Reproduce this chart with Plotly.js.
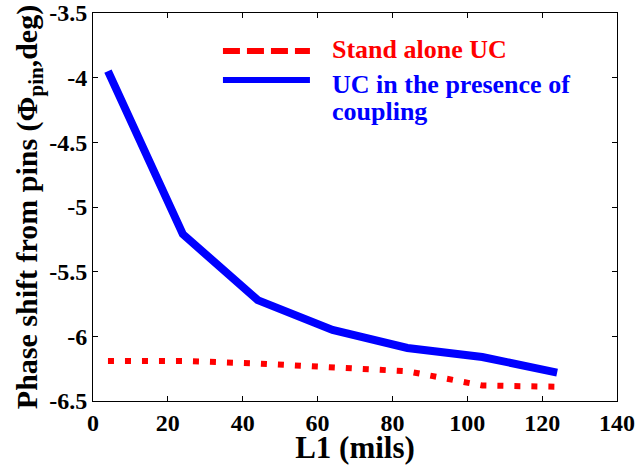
<!DOCTYPE html>
<html>
<head>
<meta charset="utf-8">
<script src="https://cdn.plot.ly/plotly-3.0.1.min.js"></script>
<style>html,body{margin:0;padding:0;background:#fff;}#chart{width:635px;height:465px;}</style>
</head>
<body>
<div id="chart"></div>
<script>
// Data
var L1 = [4, 24, 44, 64, 84, 104, 124];
var standAlone = [-6.19, -6.19, -6.21, -6.24, -6.27, -6.38, -6.39];
var withCoupling = [-3.95, -5.21, -5.72, -5.95, -6.09, -6.16, -6.28];
var xTicks = [0, 20, 40, 60, 80, 100, 120, 140];
var xTickText = ["0", "20", "40", "60", "80", "100", "120", "140"];
var yTicks = [-3.5, -4, -4.5, -5, -5.5, -6, -6.5];
var yTickText = ["-3.5", "-4", "-4.5", "-5", "-5.5", "-6", "-6.5"];
var legendLines = ["Stand alone UC", "UC in the presence of", "coupling"];

var FONT = "Liberation Serif";
function bold(a) { return a.map(function (s) { return "<b>" + s + "</b>"; }); }

var traces = [
  {x: L1, y: standAlone, mode: "lines", name: legendLines[0],
   line: {color: "#ff0000", width: 6, dash: "6px,11px"}, showlegend: false},
  {x: L1, y: withCoupling, mode: "lines", name: legendLines[1] + " " + legendLines[2],
   line: {color: "#0000ff", width: 8}, showlegend: false}
];

function axisBase() {
  return {
    showgrid: false, zeroline: false, showline: true, linecolor: "#000", linewidth: 1,
    mirror: "ticks", ticks: "inside", ticklen: 5, tickcolor: "#000",
    tickfont: {family: FONT, size: 24, color: "#000", weight: 700}
  };
}

var layout = {
  width: 635, height: 465,
  margin: {l: 93, r: 18, t: 13, b: 64},
  paper_bgcolor: "#fff", plot_bgcolor: "#fff",
  font: {family: FONT, size: 24},
  xaxis: Object.assign(axisBase(), {
    range: [0, 140], tickmode: "array", tickvals: xTicks, ticktext: bold(xTickText),
    title: {text: "<b>L1 (mils)</b>", font: {family: FONT, size: 31, color: "#000"}, standoff: 4}
  }),
  yaxis: Object.assign(axisBase(), {
    range: [-6.5, -3.5], tickmode: "array", tickvals: yTicks, ticktext: bold(yTickText),
    title: {text: "<b>Phase shift from pins (Φ<sub>pin</sub>,deg)</b>", font: {family: FONT, size: 30, color: "#000"}, standoff: 2}
  }),
  shapes: [
    {type: "line", xref: "paper", yref: "paper", x0: 0.248, x1: 0.414, y0: 0.902, y1: 0.902,
     line: {color: "#ff0000", width: 6, dash: "17px,7px"}},
    {type: "line", xref: "paper", yref: "paper", x0: 0.248, x1: 0.414, y0: 0.827, y1: 0.827,
     line: {color: "#0000ff", width: 6}}
  ],
  annotations: [
    {xref: "paper", yref: "paper", x: 0.452, y: 0.907, xanchor: "left", yanchor: "middle",
     text: "<b>" + legendLines[0] + "</b>", showarrow: false,
     font: {family: FONT, size: 26, color: "#ff0000"}},
    {xref: "paper", yref: "paper", x: 0.452, y: 0.816, xanchor: "left", yanchor: "middle",
     text: "<b>" + legendLines[1] + "</b>", showarrow: false,
     font: {family: FONT, size: 26, color: "#0000ff"}},
    {xref: "paper", yref: "paper", x: 0.452, y: 0.745, xanchor: "left", yanchor: "middle",
     text: "<b>" + legendLines[2] + "</b>", showarrow: false,
     font: {family: FONT, size: 26, color: "#0000ff"}}
  ]
};

Plotly.newPlot("chart", traces, layout, {displayModeBar: false, staticPlot: true});
</script>
</body>
</html>
